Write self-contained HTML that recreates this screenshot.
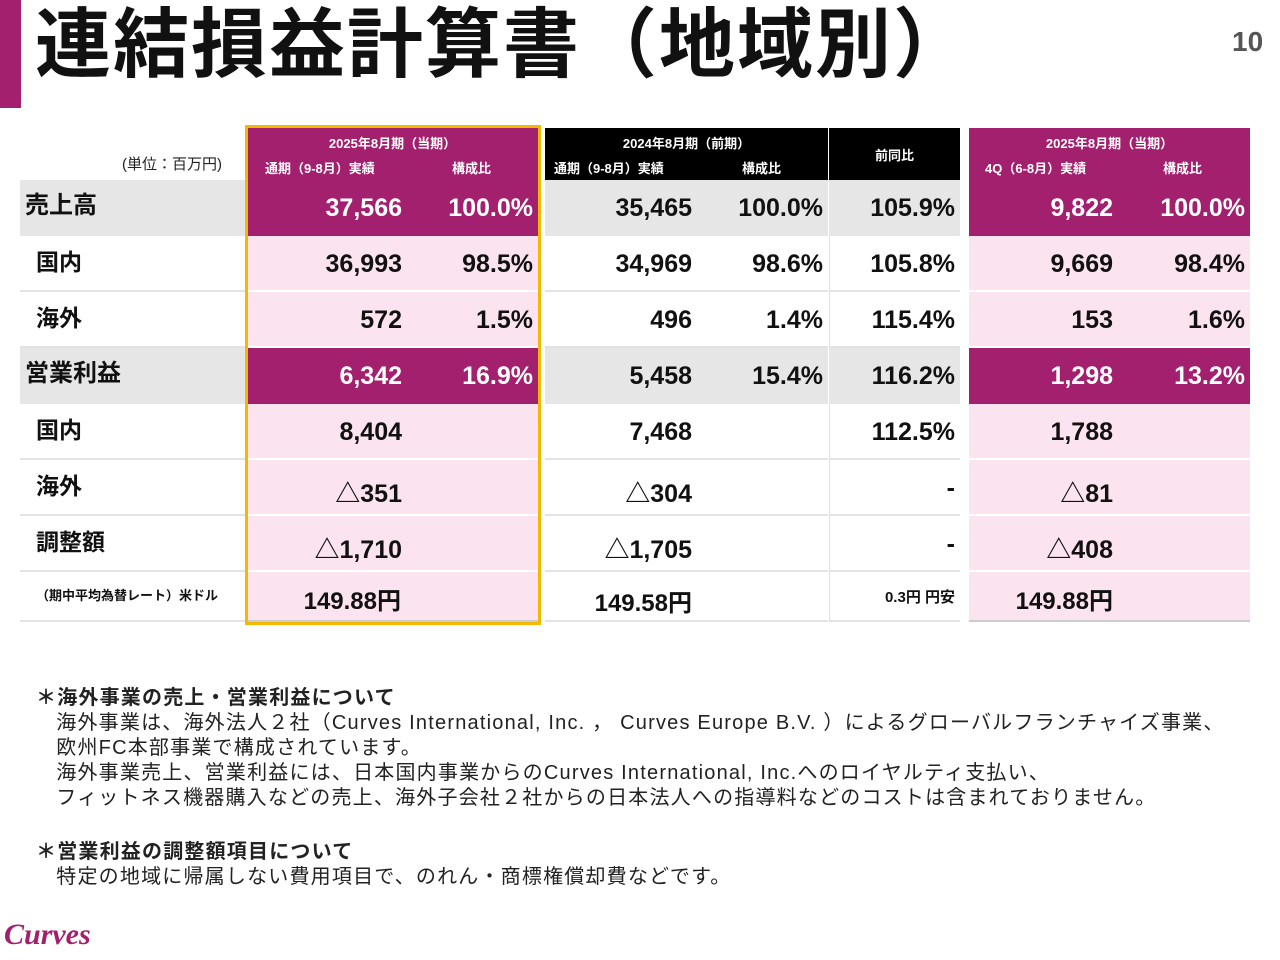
<!DOCTYPE html>
<html><head><meta charset="utf-8"><style>
body{margin:0;width:1280px;height:960px;background:#fff;position:relative;overflow:hidden;font-family:"Liberation Sans","Noto Sans CJK JP",sans-serif;}
.a{position:absolute;box-sizing:border-box;}
.t{font-weight:bold;white-space:nowrap;}
.v{position:absolute;font-weight:bold;font-size:25px;white-space:nowrap;text-align:right;}
.note{position:absolute;left:36px;font-size:20px;color:#222;white-space:nowrap;line-height:25px;letter-spacing:1.2px;}
</style></head><body>
<div class="a" style="left:0;top:0;width:21px;height:108px;background:#a3206f"></div>
<div class="a t" style="left:35px;top:-2px;font-size:76px;line-height:96px;color:#111;letter-spacing:2px">連結損益計算書（地域別）</div>
<div class="a t" style="left:1232px;top:26px;font-size:28px;color:#555">10</div>

<div class="a" style="left:122px;top:153px;font-size:15px;color:#222">(単位：百万円)</div>

<div class="a" style="left:247px;top:128px;width:291px;height:52px;background:#a3206f;color:#fff;font-size:13px">
 <div class="a t" style="left:0;width:291px;top:5px;text-align:center">2025年8月期（当期）</div>
 <div class="a t" style="left:18px;top:30px">通期（9-8月）実績</div>
 <div class="a t" style="left:205px;top:30px">構成比</div></div>
<div class="a" style="left:545px;top:128px;width:283px;height:52px;background:#000;color:#fff;font-size:13px">
 <div class="a t" style="left:0;width:283px;top:5px;text-align:center">2024年8月期（前期）</div>
 <div class="a t" style="left:9px;top:30px">通期（9-8月）実績</div>
 <div class="a t" style="left:197px;top:30px">構成比</div></div>
<div class="a" style="left:829px;top:128px;width:131px;height:52px;background:#000;color:#fff;font-size:13px">
 <div class="a t" style="left:0;width:131px;top:17px;text-align:center">前同比</div></div>
<div class="a" style="left:969px;top:128px;width:281px;height:52px;background:#a3206f;color:#fff;font-size:13px">
 <div class="a t" style="left:0;width:281px;top:5px;text-align:center">2025年8月期（当期）</div>
 <div class="a t" style="left:16px;top:30px">4Q（6-8月）実績</div>
 <div class="a t" style="left:194px;top:30px">構成比</div></div>

<div id="rows"></div>

<div class="a" style="left:245px;top:125px;width:296px;height:500px;border:3px solid #f5b800"></div>

<div class="note" style="top:686px"><b>＊海外事業の売上・営業利益について</b><br>&nbsp;&nbsp;&nbsp;海外事業は、海外法人２社（Curves International, Inc. ， Curves Europe B.V. ）によるグローバルフランチャイズ事業、<br>&nbsp;&nbsp;&nbsp;欧州FC本部事業で構成されています。<br>&nbsp;&nbsp;&nbsp;海外事業売上、営業利益には、日本国内事業からのCurves International, Inc.へのロイヤルティ支払い、<br>&nbsp;&nbsp;&nbsp;フィットネス機器購入などの売上、海外子会社２社からの日本法人への指導料などのコストは含まれておりません。</div>
<div class="note" style="top:840px"><b>＊営業利益の調整額項目について</b><br>&nbsp;&nbsp;&nbsp;特定の地域に帰属しない費用項目で、のれん・商標権償却費などです。</div>
<div class="a" style="left:4px;top:918px;font-family:'Liberation Serif',serif;font-style:italic;font-weight:bold;font-size:30px;color:#a3206f">Curves</div>

<script>
const labels=["売上高","国内","海外","営業利益","国内","海外","調整額","（期中平均為替レート）米ドル"];
const cur=["37,566","36,993","572","6,342","8,404","△351","△1,710","149.88円"];
const curPct=["100.0%","98.5%","1.5%","16.9%","","","",""];
const prev=["35,465","34,969","496","5,458","7,468","△304","△1,705","149.58円"];
const prevPct=["100.0%","98.6%","1.4%","15.4%","","","",""];
const yoy=["105.9%","105.8%","115.4%","116.2%","112.5%","-","-","0.3円 円安"];
const q4=["9,822","9,669","153","1,298","1,788","△81","△408","149.88円"];
const q4Pct=["100.0%","98.4%","1.6%","13.2%","","","",""];
const major=[true,false,false,true,false,false,false,false];
const R=document.getElementById('rows');
function box(x,y,w,h,bg,name,border){const d=document.createElement('div');d.className='a';d.style.cssText=`left:${x}px;top:${y}px;width:${w}px;height:${h}px;background:${bg};${border||''}`;


R.appendChild(d);return d;}
function txt(p,s,right,y,color,size,name){const d=document.createElement('div');d.className='v';d.textContent=s;d.style.cssText+=`right:${right}px;top:${y}px;color:${color};font-size:${size}px`;


p.appendChild(d);}
labels.forEach((lab,i)=>{
 const y=180+i*56, h=i==7?50:56, last=i==7;
 const bl='border-bottom:2px solid #e2e2e2;';
 const lb=box(20,y,227,h,major[i]?'#e6e6e6':'#fff','row-label-'+i,major[i]?'':bl);
 const l=document.createElement('div');l.className='a t';l.textContent=lab;
 l.style.cssText=`left:${major[i]?5:16}px;top:${last?14:9}px;font-size:${last?13:(major[i]?24:23)}px;line-height:34px;color:#111`;
 if(last) l.style.lineHeight='20px';
 
 
 lb.appendChild(l);
 const fs=last?24:25, ty=last?9:14;
 const a=box(247,y,291,h,major[i]?'#a3206f':'#fbe4ef','cell-2025-'+i,major[i]?'':'border-bottom:2px solid #fff;'+(last?'border-bottom:2px solid #ccc;':''));
 const ac=major[i]?'#fff':'#111';
 txt(a,cur[i],last?137:136,ty,ac,fs,'value-2025');txt(a,curPct[i],5,ty,ac,fs,'pct-2025');
 const b=box(545,y,283,h,major[i]?'#e6e6e6':'#fff','cell-2024-'+i,major[i]?'':bl);
 txt(b,prev[i],136,ty+(last?2:0),'#111',fs,'value-2024');txt(b,prevPct[i],5,ty,'#111',fs,'pct-2024');
 const c=box(829,y,131,h,major[i]?'#e6e6e6':'#fff','cell-yoy-'+i,major[i]?'':bl+'border-left:1px solid #e2e2e2;');
 txt(c,yoy[i],5,last?ty+5:ty,'#111',last?15:fs,'value-yoy');
 const d=box(969,y,281,h,major[i]?'#a3206f':'#fbe4ef','cell-q4-'+i,major[i]?'':'border-bottom:2px solid #fff;'+(last?'border-bottom:2px solid #ccc;':''));
 txt(d,q4[i],137,ty,ac,fs,'value-q4');txt(d,q4Pct[i],5,ty,ac,fs,'pct-q4');
});
</script>
</body></html>
